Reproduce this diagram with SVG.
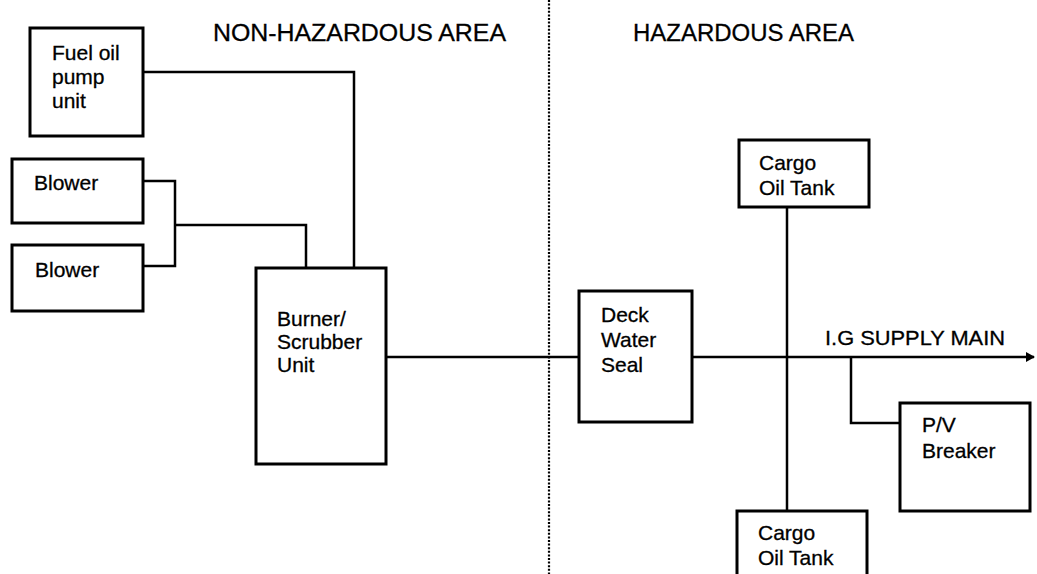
<svg xmlns="http://www.w3.org/2000/svg" width="1037" height="574" viewBox="0 0 1037 574">
<style>
.box{fill:#fff;stroke:#000;stroke-width:3}
.ln{fill:none;stroke:#000;stroke-width:2.5}
.t{font-family:"Liberation Sans",Arial,sans-serif;font-size:21px;fill:#000;stroke:#000;stroke-width:0.3}
.h{font-family:"Liberation Sans",Arial,sans-serif;font-size:24.5px;fill:#000;stroke:#000;stroke-width:0.3}
</style>
<defs>
<marker id="arr" markerWidth="10" markerHeight="12" refX="8" refY="5" orient="auto" markerUnits="userSpaceOnUse">
<path d="M0,0 L9,5 L0,10 Z" fill="#000"/>
</marker>
</defs>
<rect width="1037" height="574" fill="#fff"/>
<line x1="549" y1="0" x2="549" y2="574" stroke="#000" stroke-width="2.2" stroke-dasharray="2 1.6"/>
<text class="h" x="213" y="41" textLength="293" lengthAdjust="spacingAndGlyphs">NON-HAZARDOUS AREA</text>
<text class="h" x="633" y="41" textLength="221" lengthAdjust="spacingAndGlyphs">HAZARDOUS AREA</text>
<text class="t" x="825" y="345" textLength="180" lengthAdjust="spacingAndGlyphs">I.G SUPPLY MAIN</text>
<g id="connectors">
<polyline class="ln" points="143,72 354,72 354,268"/>
<polyline class="ln" points="143,181 175,181 175,266 143,266"/>
<polyline class="ln" points="175,225 306,225 306,268"/>
<line class="ln" x1="386" y1="357" x2="579" y2="357"/>
<line class="ln" x1="692" y1="357" x2="1034" y2="357" marker-end="url(#arr)"/>
<line class="ln" x1="787" y1="207" x2="787" y2="511"/>
<polyline class="ln" points="851,357 851,423 900,423"/>
</g>
<g id="fuel">
<rect class="box" x="30" y="28" width="113" height="108"/>
<text class="t" x="52" y="60">Fuel oil</text>
<text class="t" x="52" y="84">pump</text>
<text class="t" x="52" y="108">unit</text>
</g>
<g id="blower1">
<rect class="box" x="12" y="159" width="131" height="64"/>
<text class="t" x="34" y="190">Blower</text>
</g>
<g id="blower2">
<rect class="box" x="12" y="245" width="131" height="66"/>
<text class="t" x="35" y="277">Blower</text>
</g>
<g id="burner">
<rect class="box" x="256" y="268" width="130" height="196"/>
<text class="t" x="277" y="326">Burner/</text>
<text class="t" x="277" y="349">Scrubber</text>
<text class="t" x="277" y="372">Unit</text>
</g>
<g id="deck">
<rect class="box" x="579" y="291" width="113" height="131"/>
<text class="t" x="601" y="322">Deck</text>
<text class="t" x="601" y="347">Water</text>
<text class="t" x="601" y="372">Seal</text>
</g>
<g id="cargo1">
<rect class="box" x="739" y="140" width="130" height="67"/>
<text class="t" x="759" y="170">Cargo</text>
<text class="t" x="759" y="195">Oil Tank</text>
</g>
<g id="cargo2">
<rect class="box" x="737" y="511" width="130" height="70"/>
<text class="t" x="758" y="540">Cargo</text>
<text class="t" x="758" y="565">Oil Tank</text>
</g>
<g id="pv">
<rect class="box" x="900" y="403" width="130" height="108"/>
<text class="t" x="922" y="432">P/V</text>
<text class="t" x="922" y="458">Breaker</text>
</g>
</svg>
